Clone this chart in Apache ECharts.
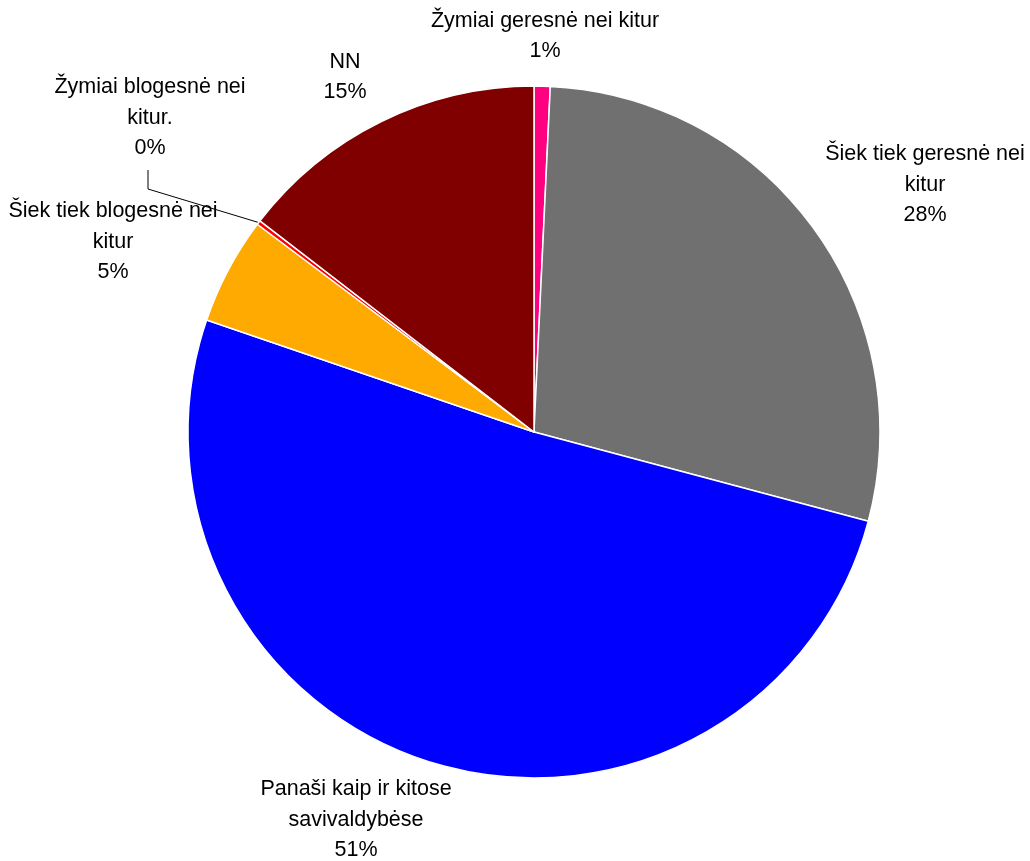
<!DOCTYPE html>
<html>
<head>
<meta charset="utf-8">
<script src="https://cdn.jsdelivr.net/npm/echarts@6/dist/echarts.min.js"></script>
<style>
  html, body { margin: 0; padding: 0; background: #fff; }
  #chart { width: 1030px; height: 861px; }
</style>
</head>
<body>
<div id="chart"></div>
<script>
// slice names (clockwise from top) and shares
var names = [
  'Žymiai geresnė nei kitur',
  'Šiek tiek geresnė nei\nkitur',
  'Panaši kaip ir kitose\nsavivaldybėse',
  'Šiek tiek blogesnė nei\nkitur',
  'Žymiai blogesnė nei\nkitur.',
  'NN'
];
var values = [0.75, 28.4, 51.1, 5.0, 0.2, 14.55];
var colors = ['#FF0080', '#707070', '#0000FF', '#FFAA00', '#FF0000', '#800000'];

// label block centres
var labelPos = [
  [545, 36], [925, 185], [356, 820], [113, 242], [150, 118], [345, 77]
];

var myChart = echarts.init(document.getElementById('chart'));

var data = names.map(function (n, i) {
  return {
    name: n,
    value: values[i],
    itemStyle: { color: colors[i] },
    labelLine: { show: i === 4 }
  };
});

var option = {
  animation: false,
  series: [
    {
      type: 'pie',
      center: [534, 432],
      radius: [0, 346],
      startAngle: 90,
      clockwise: true,
      percentPrecision: 0,
      avoidLabelOverlap: false,
      itemStyle: { borderColor: '#fff', borderWidth: 1.5 },
      label: {
        show: true,
        position: 'outside',
        formatter: '{b}\n{d}%',
        fontFamily: 'Liberation Sans, Arial, sans-serif',
        fontSize: 21.5,
        lineHeight: 30.5,
        color: '#000',
        align: 'center'
      },
      labelLine: {
        lineStyle: { color: '#000', width: 1 }
      },
      labelLayout: function (params) {
        var p = labelPos[params.dataIndex];
        var out = { x: p[0], y: p[1], align: 'center', verticalAlign: 'middle' };
        if (params.dataIndex === 4 && params.labelLinePoints) {
          var s = params.labelLinePoints[0];
          out.labelLinePoints = [s, [148, 189], [148, 170]];
        }
        return out;
      },
      data: data
    }
  ]
};

myChart.setOption(option);
</script>
</body>
</html>
